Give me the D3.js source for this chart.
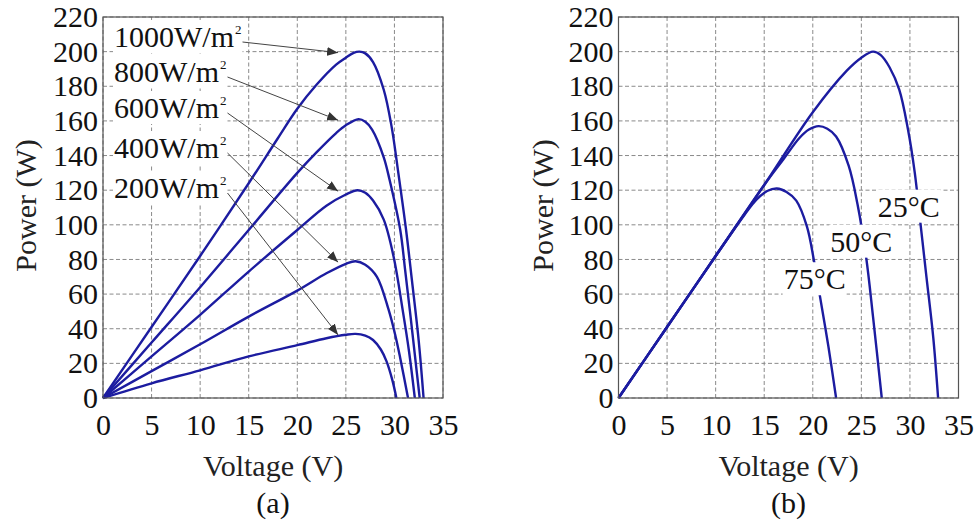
<!DOCTYPE html>
<html>
<head>
<meta charset="utf-8">
<script src="https://cdn.jsdelivr.net/npm/d3@7"></script>
<style>
  body { margin: 0; background: #fff; }
  text { font-family: "Liberation Serif", "Times New Roman", serif; }
</style>
</head>
<body>
<script>
// axis ticks
const voltageTicks = [0, 5, 10, 15, 20, 25, 30, 35];
const powerTicks = [0, 20, 40, 60, 80, 100, 120, 140, 160, 180, 200, 220];

// (a) irradiance curves, [voltage, power]
const irradianceNames = ['1000', '800', '600', '400', '200'];
const g1000 = [[0,0],[5,41],[10,82],[15,124],[18,150],[20,167],[22,181],[24,192.5],[25,196.5],[25.8,199.3],[26.4,200],[27,199],[27.8,194],[28.9,178],[29.7,157],[30.4,130],[31.2,97],[31.8,68],[32.5,33],[33,0]];
const g800 = [[0,0],[5,32],[10,64],[15,97],[20,130],[22,142],[24,153],[25,157.5],[26.3,161],[27,159.5],[27.7,155],[28.9,139],[29.5,126],[30.6,97],[31.1,74],[31.6,50],[32.1,25],[32.6,0]];
const g600 = [[0,0],[5,24],[10,48],[15,73],[20,97],[23,111],[25,117.5],[26.2,120],[27,118.5],[27.8,114],[28.9,103],[29.9,82],[30.9,49],[31.5,27],[32.1,0]];
const g400 = [[0,0],[5,15.5],[10,31],[15,47],[20,62],[23,72],[25,77.5],[26,79],[27,77],[28.2,70],[29.4,51],[30.1,36],[30.6,23],[31.4,0]];
const g200 = [[0,0],[5,8.5],[10,16],[15,24],[20,30.5],[23,34.5],[25,36.5],[26,37],[27,36],[27.8,33.5],[28.6,28],[29.2,21],[29.8,10],[30.2,0]];

// (b) temperature curves
const temperatureNames = ['25°C', '50°C', '75°C'];
const t25 = [[0,0],[5,41],[10,82],[15,123],[20,165],[23.5,189],[25,196.5],[26.2,200],[27,198],[27.9,191],[28.9,178],[29.8,155],[30.5,130],[31.1,100],[31.7,70],[32.4,35],[32.9,0]];
const t50 = [[0,0],[5,41],[10,82],[15,123],[17,138],[18.6,150],[19.6,155],[20.6,157],[21.5,155.5],[22.4,151],[23.7,134],[24.6,112],[25.5,81],[26.2,47],[27.1,0]];
const t75 = [[0,0],[5,41],[10,82],[13,106],[14.2,114.5],[15.3,119.5],[16.3,121],[17.3,119],[18.3,114],[19.4,99],[20.1,80],[20.7,60],[21.6,30],[22.4,0]];

const W = 977, H = 527;
const plotW = 340, plotH = 381, plotTop = 17;
const curveColor = '#1c1ca0';

const svg = d3.select('body').append('svg')
  .attr('width', W)
  .attr('height', H);
svg.append('rect').attr('width', W).attr('height', H).attr('fill', '#fff');

const x = d3.scaleLinear().domain([0, 35]).range([0, plotW]);
const y = d3.scaleLinear().domain([0, 220]).range([plotH, 0]);

function drawPanel(left, curves, caption, yLabelX) {
  const g = svg.append('g').attr('transform', `translate(${left},${plotTop})`);

  // dashed grid
  g.append('g').selectAll('line').data(voltageTicks).enter().append('line')
    .attr('x1', d => x(d)).attr('x2', d => x(d))
    .attr('y1', 0).attr('y2', plotH)
    .attr('stroke', '#8a8a8a').attr('stroke-dasharray', '4,2.5');
  g.append('g').selectAll('line').data(powerTicks).enter().append('line')
    .attr('y1', d => y(d)).attr('y2', d => y(d))
    .attr('x1', 0).attr('x2', plotW)
    .attr('stroke', '#8a8a8a').attr('stroke-dasharray', '4,2.5');

  const line = d3.line()
    .x(d => x(d[0]))
    .y(d => y(d[1]))
    .curve(d3.curveCatmullRom.alpha(0.5));

  g.append('g').selectAll('path').data(curves).enter().append('path')
    .attr('d', line)
    .attr('fill', 'none')
    .attr('stroke', curveColor)
    .attr('stroke-width', 2.4);

  // frame
  g.append('rect')
    .attr('width', plotW).attr('height', plotH)
    .attr('fill', 'none').attr('stroke', '#555').attr('stroke-width', 1.2);

  const xAxis = g.append('g')
    .attr('transform', `translate(0,${plotH})`)
    .call(d3.axisBottom(x).tickValues(voltageTicks).tickSize(0).tickPadding(16));
  const yAxis = g.append('g')
    .call(d3.axisLeft(y).tickValues(powerTicks).tickSize(0).tickPadding(5));
  [xAxis, yAxis].forEach(a => {
    a.select('.domain').remove();
    a.attr('font-family', null).attr('font-size', null);
    a.selectAll('text').attr('font-size', 30).attr('fill', '#111');
  });

  g.append('text')
    .attr('x', plotW / 2).attr('y', 459)
    .attr('text-anchor', 'middle')
    .attr('font-size', 30).attr('fill', '#222')
    .text('Voltage (V)');
  g.append('text')
    .attr('x', plotW / 2).attr('y', 496)
    .attr('text-anchor', 'middle')
    .attr('font-size', 30).attr('fill', '#111')
    .text(caption);
  g.append('text')
    .attr('transform', `translate(${yLabelX - left},${plotH / 2 - 2}) rotate(-90)`)
    .attr('text-anchor', 'middle')
    .attr('font-size', 30).attr('fill', '#222')
    .text('Power (W)');

  return g;
}

// white-backed label
function label(g, px, py) {
  const lg = g.append('g');
  const bg = lg.append('rect').attr('fill', '#fff');
  const t = lg.append('text')
    .attr('x', px).attr('y', py)
    .attr('font-size', 30).attr('fill', '#111');
  return { bg, t };
}
function fitBg(l) {
  const b = l.t.node().getBBox();
  l.bg.attr('x', b.x - 1).attr('y', b.y).attr('width', b.width + 2).attr('height', b.height);
  return b;
}

// panel (a)
const irr = [g1000, g800, g600, g400, g200];
const ga = drawPanel(103, irr, '(a)', 36);

svg.append('defs').append('marker')
  .attr('id', 'head')
  .attr('viewBox', '0 0 10 8')
  .attr('refX', 10).attr('refY', 4)
  .attr('markerWidth', 11).attr('markerHeight', 9)
  .attr('markerUnits', 'userSpaceOnUse')
  .attr('orient', 'auto')
  .append('path').attr('d', 'M0,0L10,4L0,8Z').attr('fill', '#333');

const irrBaselines = [30, 65, 101, 141, 181];
irradianceNames.forEach((name, i) => {
  const l = label(ga, 11, irrBaselines[i]);
  l.t.append('tspan').text(name + 'W/m');
  l.t.append('tspan').attr('font-size', 13).attr('dy', -13).attr('dx', 1).text('2');
  const b = fitBg(l);
  const peak = d3.max(irr[i], d => d[1]);
  ga.append('line')
    .attr('x1', b.x + b.width + 1).attr('y1', irrBaselines[i] - 5)
    .attr('x2', x(24.2)).attr('y2', y(peak) + 1)
    .attr('stroke', '#444').attr('stroke-width', 1)
    .attr('marker-end', 'url(#head)');
});

// panel (b)
const temps = [t25, t50, t75];
const gb = drawPanel(618.5, temps, '(b)', 553);
const tempPos = [[26.7, 104.7], [21.8, 84.5], [17.0, 62.8]];
temperatureNames.forEach((name, i) => {
  const l = label(gb, x(tempPos[i][0]), y(tempPos[i][1]));
  l.t.text(name);
  fitBg(l);
});
</script>
</body>
</html>
